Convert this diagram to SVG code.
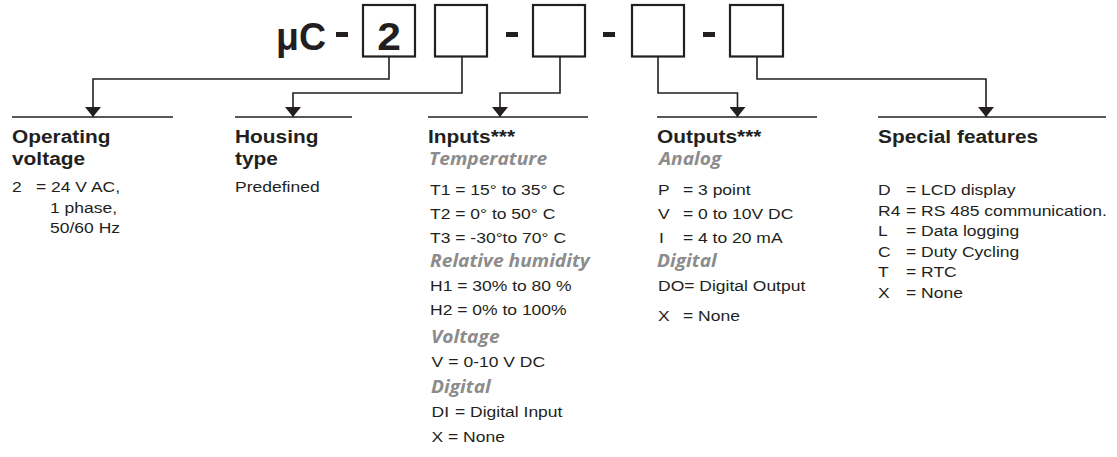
<svg xmlns="http://www.w3.org/2000/svg" width="1117" height="457" viewBox="0 0 1117 457">
<style>
  .big{font-family:"Liberation Sans",Arial,sans-serif;font-weight:bold;font-size:38px;fill:#231f20}
  .hd{font-family:"Liberation Sans",Arial,sans-serif;font-weight:bold;font-size:18.5px;fill:#231f20}
  .sub{font-family:"Open Sans",Lato,sans-serif;font-weight:bold;font-style:italic;font-size:17px;fill:#8c8c8c}
  .tx{font-family:"Liberation Sans",Arial,sans-serif;font-size:15.5px;fill:#231f20}
  .box{fill:#fff;stroke:#231f20;stroke-width:2.2}
  .dash{fill:#231f20}
  .conn{fill:none;stroke:#231f20;stroke-width:1.6}
  .rule{stroke:#231f20;stroke-width:1.3}
</style>
<defs>
  <marker id="arr" viewBox="0 0 10 16" refX="10" refY="8" markerWidth="10" markerHeight="16" markerUnits="userSpaceOnUse" orient="auto">
    <path d="M0,0 L10,8 L0,16 Z" fill="#231f20"/>
  </marker>
</defs>

<g id="code">
  <text class="big" x="276" y="50" textLength="50" lengthAdjust="spacingAndGlyphs">μC</text>
  <rect class="dash" x="336" y="32" width="12" height="5"/>
  <rect id="box1" class="box" x="363" y="5" width="52" height="51.5"/>
  <text class="big" transform="translate(389,50) scale(1.12,1)" x="0" y="0" text-anchor="middle">2</text>
  <rect id="box2" class="box" x="435" y="5" width="52" height="51.5"/>
  <rect class="dash" x="506" y="32" width="12" height="5"/>
  <rect id="box3" class="box" x="533" y="5" width="52" height="51.5"/>
  <rect class="dash" x="603" y="32" width="12" height="5"/>
  <rect id="box4" class="box" x="632" y="5" width="52" height="51.5"/>
  <rect class="dash" x="703" y="32" width="12" height="5"/>
  <rect id="box5" class="box" x="730" y="5" width="53" height="51.5"/>
</g>

<g id="connectors">
  <path class="conn" d="M389,57 V79 H93 V117" marker-end="url(#arr)"/>
  <path class="conn" d="M462,57 V93 H293 V117" marker-end="url(#arr)"/>
  <path class="conn" d="M560,57 V93 H500 V117" marker-end="url(#arr)"/>
  <path class="conn" d="M658,57 V93 H737.5 V117" marker-end="url(#arr)"/>
  <path class="conn" d="M757,57 V79 H986 V117" marker-end="url(#arr)"/>
</g>

<g id="operating-voltage">
  <line class="rule" x1="12" y1="117" x2="173" y2="117"/>
  <text class="hd" transform="translate(12,143) scale(1.13,1)">Operating</text>
  <text class="hd" transform="translate(12,165) scale(1.13,1)">voltage</text>
  <text class="tx" transform="translate(12,192) scale(1.13,1)">2<tspan x="21.2">= 24 V AC,</tspan></text>
  <text class="tx" transform="translate(50,212.5) scale(1.13,1)">1 phase,</text>
  <text class="tx" transform="translate(50,233) scale(1.13,1)">50/60 Hz</text>
</g>

<g id="housing-type">
  <line class="rule" x1="235" y1="117" x2="352" y2="117"/>
  <text class="hd" transform="translate(235,143) scale(1.13,1)">Housing</text>
  <text class="hd" transform="translate(235,165) scale(1.13,1)">type</text>
  <text class="tx" transform="translate(235,192) scale(1.13,1)">Predefined</text>
</g>

<g id="inputs">
  <line class="rule" x1="428" y1="117" x2="588" y2="117"/>
  <text class="hd" transform="translate(428,143) scale(1.13,1)">Inputs***</text>
  <text class="sub" transform="translate(429,165) scale(1.13,1)">Temperature</text>
  <text class="tx" transform="translate(430,195) scale(1.13,1)">T1 = 15° to 35° C</text>
  <text class="tx" transform="translate(430,219) scale(1.13,1)">T2 = 0° to 50° C</text>
  <text class="tx" transform="translate(430,243) scale(1.13,1)">T3 = -30°to 70° C</text>
  <text class="sub" transform="translate(430,267) scale(1.13,1)">Relative humidity</text>
  <text class="tx" transform="translate(430,291) scale(1.13,1)">H1 = 30% to 80 %</text>
  <text class="tx" transform="translate(430,315) scale(1.13,1)">H2 = 0% to 100%</text>
  <text class="sub" transform="translate(431,343) scale(1.13,1)">Voltage</text>
  <text class="tx" transform="translate(431.5,367) scale(1.13,1)">V<tspan x="14.9">= 0-10 V DC</tspan></text>
  <text class="sub" transform="translate(431,393) scale(1.13,1)">Digital</text>
  <text class="tx" transform="translate(431.5,417) scale(1.13,1)">DI<tspan x="20.8">= Digital Input</tspan></text>
  <text class="tx" transform="translate(431.5,442) scale(1.13,1)">X<tspan x="14.6">= None</tspan></text>
</g>

<g id="outputs">
  <line class="rule" x1="657" y1="117" x2="817" y2="117"/>
  <text class="hd" transform="translate(657,143) scale(1.13,1)">Outputs***</text>
  <text class="sub" transform="translate(659,165) scale(1.13,1)">Analog</text>
  <text class="tx" transform="translate(658,195) scale(1.13,1)">P<tspan x="22.1">= 3 point</tspan></text>
  <text class="tx" transform="translate(658,219) scale(1.13,1)">V<tspan x="22.1">= 0 to 10V DC</tspan></text>
  <text class="tx" transform="translate(659,243) scale(1.13,1)">I<tspan x="21.2">= 4  to 20 mA</tspan></text>
  <text class="sub" transform="translate(657,267) scale(1.13,1)">Digital</text>
  <text class="tx" transform="translate(658,291) scale(1.13,1)">DO= Digital Output</text>
  <text class="tx" transform="translate(658,321) scale(1.13,1)">X<tspan x="22.1">= None</tspan></text>
</g>

<g id="special-features">
  <line class="rule" x1="878" y1="117" x2="1106" y2="117"/>
  <text class="hd" transform="translate(878,143) scale(1.13,1)">Special features</text>
  <text class="tx" transform="translate(878,195) scale(1.13,1)">D<tspan x="24.8">= LCD display</tspan></text>
  <text class="tx" transform="translate(878,215.5) scale(1.13,1)">R4<tspan x="24.8">= RS 485 communication.</tspan></text>
  <text class="tx" transform="translate(878,236) scale(1.13,1)">L<tspan x="24.8">= Data logging</tspan></text>
  <text class="tx" transform="translate(878,256.5) scale(1.13,1)">C<tspan x="24.8">= Duty Cycling</tspan></text>
  <text class="tx" transform="translate(878,277) scale(1.13,1)">T<tspan x="24.8">= RTC</tspan></text>
  <text class="tx" transform="translate(878,297.5) scale(1.13,1)">X<tspan x="24.8">= None</tspan></text>
</g>
</svg>
